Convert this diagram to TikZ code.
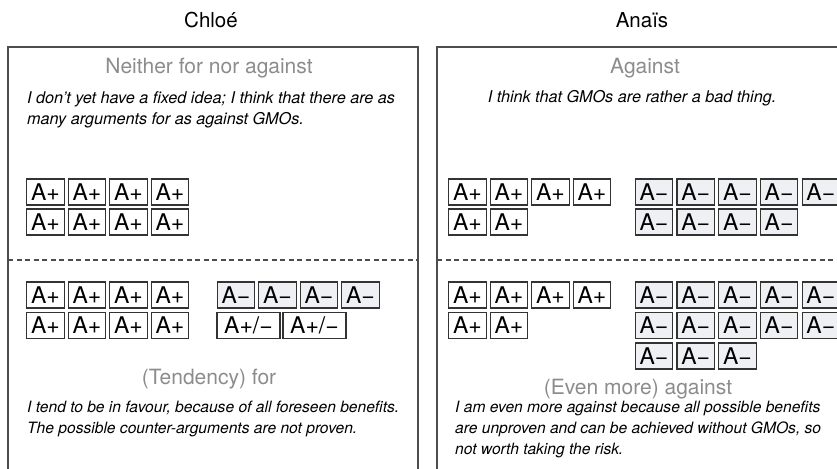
\documentclass[tikz,border=0pt]{standalone}
\usepackage{fontspec}
\setmainfont{TeX Gyre Heros}
\definecolor{framegray}{HTML}{4D4D4D}
\definecolor{headgray}{HTML}{8C8C8C}
\definecolor{boxgray}{HTML}{EEF0F3}
\tikzset{
  argbox/.style={draw=black!80, line width=1.1pt, minimum width=37.5pt, minimum height=26pt,
    inner sep=0pt, font=\fontsize{23}{25}\selectfont},
  conbox/.style={argbox, fill=boxgray},
  mixbox/.style={argbox, minimum width=63pt},
  panel/.style={draw=framegray, line width=1.5pt},
  divider/.style={draw=framegray, line width=1.2pt, dash pattern=on 5pt off 3.5pt},
  person/.style={anchor=base, font=\fontsize{20.5}{24}\selectfont},
  stance/.style={anchor=base, text=headgray, font=\fontsize{21}{24}\selectfont},
  quote/.style={inner sep=0pt, align=left, font=\fontsize{16.2}{21}\selectfont\itshape},
  lowquote/.style={quote, font=\fontsize{15.6}{21}\selectfont\itshape}
}
\begin{document}
\begin{tikzpicture}[x=1pt,y=-1pt]
  \useasboundingbox (0,0) rectangle (837,468);
  \clip (0,0) rectangle (837,468);
  % panels
  \draw[panel] (8,470) -- (8,47) -- (418,47) -- (418,470);
  \draw[panel] (437,470) -- (437,47) -- (847,47) -- (847,470);
  \draw[divider] (8,260) -- (418,260);
  \draw[divider] (437,260) -- (847,260);
  % names
  \node[person] (chloe) at (211,28) {Chloé};
  \node[person] (anais) at (642,28) {Anaïs};
  % Chloé, before
  \node[stance] (chloe-before) at (209,73.5) {Neither for nor against};
  \node[quote, anchor=north west] (chloe-say1) at (27,91)
    {I don’t yet have a fixed idea; I think that there are as\\many arguments for as against GMOs.};
  \foreach \i in {0,...,3} {
    \node[argbox] (cb1-\i) at (45.5+41.5*\i,192) {A+};
    \node[argbox] (cb2-\i) at (45.5+41.5*\i,222) {A+};
  }
  % Chloé, after
  \foreach \i in {0,...,3} {
    \node[argbox] (ca1-\i) at (45.5+41.5*\i,295) {A+};
    \node[argbox] (ca2-\i) at (45.5+41.5*\i,325.5) {A+};
    \node[conbox] (cm1-\i) at (236+41.5*\i,295) {A−};
  }
  \foreach \i in {0,1}
    \node[mixbox] (cx-\i) at (248.5+66*\i,325.5) {A+/−};
  \node[stance] (chloe-after) at (209,384.5) {(Tendency) for};
  \node[lowquote, anchor=north west] (chloe-say2) at (27,401)
    {I tend to be in favour, because of all foreseen benefits.\\The possible counter-arguments are not proven.};
  % Anaïs, before
  \node[stance] (anais-before) at (645,73.5) {Against};
  \node[quote, anchor=base] (anais-say1) at (632,102.5)
    {I think that GMOs are rather a bad thing.};
  \foreach \i in {0,...,3}
    \node[argbox] (ab1-\i) at (467.5+41.5*\i,192) {A+};
  \foreach \i in {0,1}
    \node[argbox] (ab2-\i) at (467.5+41.5*\i,222) {A+};
  \foreach \i in {0,...,4}
    \node[conbox] (an1-\i) at (654+41.7*\i,192) {A−};
  \foreach \i in {0,...,3}
    \node[conbox] (an2-\i) at (654+41.7*\i,222) {A−};
  % Anaïs, after
  \foreach \i in {0,...,3}
    \node[argbox] (aa1-\i) at (467.5+41.5*\i,295) {A+};
  \foreach \i in {0,1}
    \node[argbox] (aa2-\i) at (467.5+41.5*\i,325.5) {A+};
  \foreach \i in {0,...,4} {
    \node[conbox] (am1-\i) at (654+41.7*\i,295) {A−};
    \node[conbox] (am2-\i) at (654+41.7*\i,325.5) {A−};
  }
  \foreach \i in {0,...,2}
    \node[conbox] (am3-\i) at (654+41.7*\i,356) {A−};
  \node[stance] (anais-after) at (638,394) {(Even more) against};
  \node[lowquote, anchor=north west] (anais-say2) at (455,401)
    {I am even more against because all possible benefits\\are unproven and can be achieved without GMOs, so\\not worth taking the risk.};
\end{tikzpicture}
\end{document}
